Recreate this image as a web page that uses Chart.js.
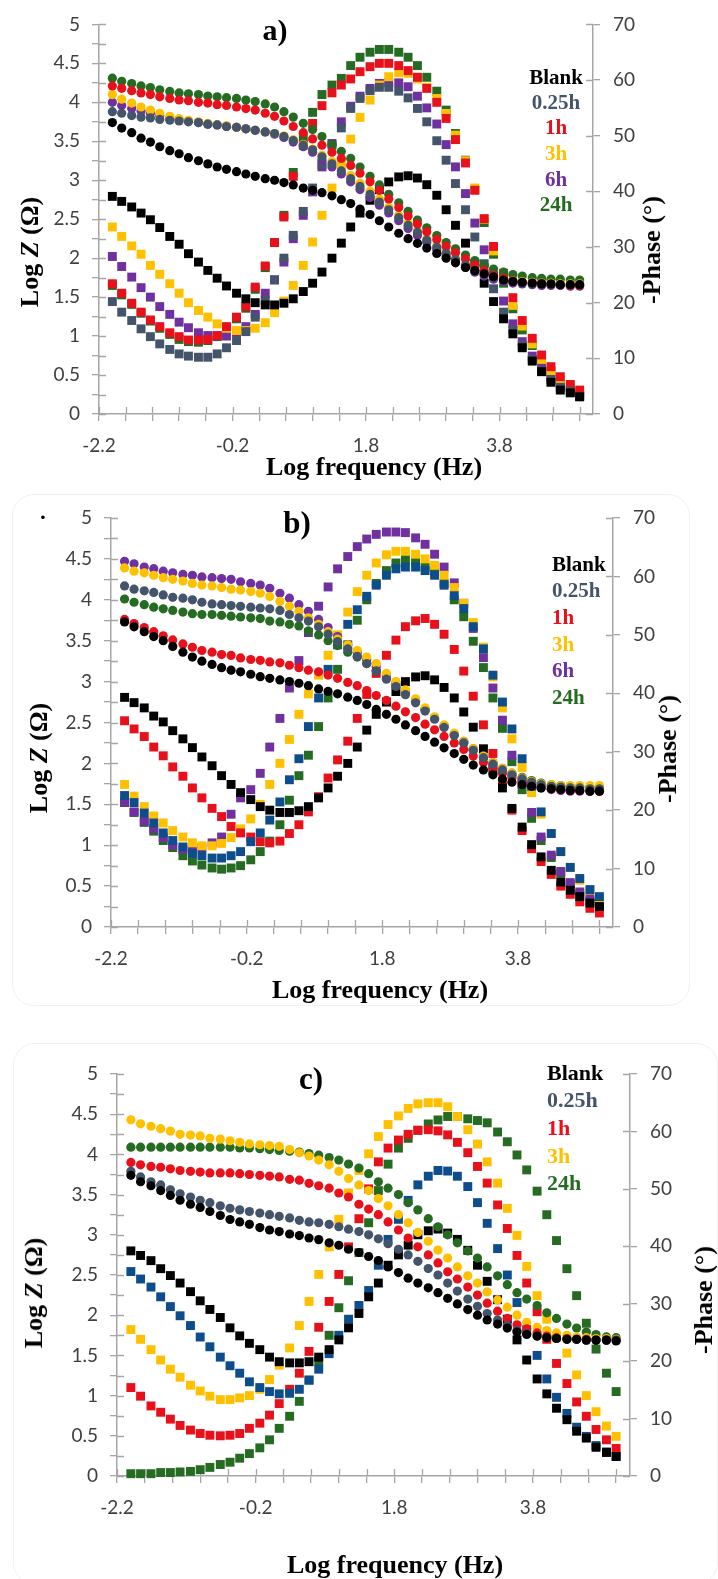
<!DOCTYPE html>
<html>
<head>
<meta charset="utf-8">
<script src="https://cdn.jsdelivr.net/npm/chart.js@4.4.0/dist/chart.umd.min.js"></script>
<style>
body { margin: 0; background: #fff; }
#page { position: relative; width: 718px; height: 1579px; overflow: hidden; background: #fff; }
canvas { position: absolute; left: 0; }
.t { position: absolute; font-family: 'Liberation Serif', 'Times New Roman', serif; font-weight: bold; white-space: nowrap; line-height: 1; transform: translate(-50%, -50%); }
.l { position: absolute; font-family: 'Liberation Serif', 'Times New Roman', serif; font-weight: bold; white-space: nowrap; line-height: 1; transform: translateY(-50%); }
.rot { transform: translate(-50%, -50%) rotate(-90deg); }
.frame { position: absolute; border: 1px solid #f1f1f1; border-radius: 22px; }
</style>
</head>
<body>
<div id="page">
  <div class="frame" style="left:12px;top:494px;width:676px;height:510px"></div>
  <div class="frame" style="left:13px;top:1043px;width:703px;height:540px"></div>

  <canvas id="chartA"></canvas>
  <canvas id="chartB"></canvas>
  <canvas id="chartC"></canvas>

  <!-- panel a -->
  <div class="t" style="left:275px;top:30px;font-size:30px">a)</div>
  <div class="t" style="left:556px;top:77px;font-size:21px;color:#000">Blank</div>
  <div class="t" style="left:556px;top:102px;font-size:21px;color:#44546A">0.25h</div>
  <div class="t" style="left:556px;top:127px;font-size:21px;color:#E8111B">1h</div>
  <div class="t" style="left:556px;top:153px;font-size:21px;color:#FFC000">3h</div>
  <div class="t" style="left:556px;top:179px;font-size:21px;color:#7030A0">6h</div>
  <div class="t" style="left:556px;top:204px;font-size:21px;color:#256B21">24h</div>
  <div class="t" style="left:374px;top:467px;font-size:26px">Log frequency (Hz)</div>
  <div class="t rot" style="left:30px;top:252px;font-size:26px">Log <i>Z</i> (Ω)</div>
  <div class="t rot" style="left:652px;top:250px;font-size:26px">-Phase (°)</div>

  <!-- panel b -->
  <div class="t" style="left:43px;top:517px;font-size:22px">·</div>
  <div class="t" style="left:297px;top:522px;font-size:31px">b)</div>
  <div class="l" style="left:552px;top:564px;font-size:21px;color:#000">Blank</div>
  <div class="l" style="left:552px;top:590px;font-size:21px;color:#44546A">0.25h</div>
  <div class="l" style="left:552px;top:617px;font-size:21px;color:#E8111B">1h</div>
  <div class="l" style="left:552px;top:644px;font-size:21px;color:#FFC000">3h</div>
  <div class="l" style="left:552px;top:670px;font-size:21px;color:#7030A0">6h</div>
  <div class="l" style="left:552px;top:697px;font-size:21px;color:#256B21">24h</div>
  <div class="t" style="left:380px;top:990px;font-size:26px">Log frequency (Hz)</div>
  <div class="t rot" style="left:39px;top:758px;font-size:26px">Log <i>Z</i> (Ω)</div>
  <div class="t rot" style="left:668px;top:749px;font-size:26px">-Phase (°)</div>

  <!-- panel c -->
  <div class="t" style="left:311px;top:1078px;font-size:31px">c)</div>
  <div class="l" style="left:547px;top:1073px;font-size:22px;color:#000">Blank</div>
  <div class="l" style="left:547px;top:1100px;font-size:22px;color:#44546A">0.25h</div>
  <div class="l" style="left:547px;top:1128px;font-size:22px;color:#E8111B">1h</div>
  <div class="l" style="left:547px;top:1156px;font-size:22px;color:#FFC000">3h</div>
  <div class="l" style="left:547px;top:1183px;font-size:22px;color:#256B21">24h</div>
  <div class="t" style="left:395px;top:1565px;font-size:26px">Log frequency (Hz)</div>
  <div class="t rot" style="left:34px;top:1293px;font-size:26px">Log <i>Z</i> (Ω)</div>
  <div class="t rot" style="left:704px;top:1300px;font-size:26px">-Phase (°)</div>
</div>

<script>
// log of the measured frequencies (7 points per decade, 10 mHz .. 100 kHz)
var logF = [-2.00,-1.86,-1.71,-1.57,-1.43,-1.29,-1.14,-1.00,-0.86,-0.71,
  -0.57,-0.43,-0.29,-0.14,0.00,0.14,0.29,0.43,0.57,0.71,
  0.86,1.00,1.14,1.29,1.43,1.57,1.71,1.86,2.00,2.14,
  2.29,2.43,2.57,2.71,2.86,3.00,3.14,3.29,3.43,3.57,
  3.71,3.86,4.00,4.14,4.29,4.43,4.57,4.71,4.86,5.00];

var xTicks = [-2.2,-1.8,-1.4,-1.0,-0.6,-0.2,0.2,0.6,1.0,1.4,1.8,2.2,2.6,3.0,3.4,3.8,4.2,4.6,5.0];
var xLabels = ['-2.2', '-0.2', '1.8', '3.8'];

// ---- panel a : Log Z ----
var aBlankZ = [3.74,3.67,3.61,3.54,3.49,3.43,3.38,3.34,3.29,3.25,
  3.21,3.17,3.14,3.11,3.08,3.05,3.02,3.00,2.97,2.94,
  2.90,2.87,2.84,2.80,2.75,2.70,2.63,2.56,2.48,2.40,
  2.32,2.25,2.19,2.13,2.06,2.00,1.94,1.88,1.84,1.80,
  1.76,1.72,1.70,1.69,1.68,1.67,1.67,1.66,1.66,1.66];
var a025Z = [3.88,3.86,3.83,3.81,3.80,3.78,3.77,3.76,3.75,3.74,
  3.72,3.71,3.69,3.68,3.66,3.64,3.62,3.60,3.56,3.51,
  3.45,3.39,3.30,3.21,3.12,3.02,2.92,2.82,2.72,2.62,
  2.52,2.42,2.33,2.23,2.14,2.06,1.98,1.91,1.84,1.79,
  1.75,1.72,1.70,1.68,1.67,1.67,1.66,1.66,1.66,1.66];
var a1hZ = [4.21,4.18,4.15,4.12,4.10,4.07,4.05,4.03,4.02,4.00,
  3.99,3.97,3.96,3.94,3.92,3.90,3.86,3.82,3.76,3.69,
  3.61,3.53,3.45,3.36,3.28,3.19,3.09,2.98,2.87,2.76,
  2.65,2.54,2.44,2.34,2.24,2.15,2.07,1.99,1.91,1.84,
  1.78,1.74,1.71,1.69,1.68,1.67,1.66,1.66,1.65,1.65];
var a3hZ = [4.10,4.04,3.99,3.94,3.90,3.86,3.82,3.79,3.77,3.75,
  3.73,3.71,3.70,3.68,3.66,3.64,3.62,3.60,3.57,3.52,
  3.46,3.40,3.32,3.24,3.16,3.06,2.96,2.86,2.76,2.65,
  2.55,2.45,2.35,2.25,2.16,2.08,2.00,1.92,1.86,1.80,
  1.76,1.73,1.71,1.70,1.69,1.68,1.68,1.67,1.67,1.67];
var a6hZ = [4.00,3.96,3.92,3.89,3.86,3.83,3.80,3.78,3.76,3.74,
  3.72,3.71,3.69,3.68,3.66,3.64,3.62,3.59,3.55,3.49,
  3.43,3.36,3.26,3.17,3.08,2.98,2.88,2.78,2.68,2.58,
  2.48,2.38,2.29,2.20,2.11,2.03,1.95,1.88,1.82,1.77,
  1.73,1.70,1.68,1.67,1.66,1.65,1.65,1.65,1.64,1.64];
var a24hZ = [4.31,4.27,4.24,4.21,4.19,4.16,4.14,4.12,4.11,4.10,
  4.08,4.07,4.06,4.05,4.03,4.01,3.98,3.94,3.88,3.81,
  3.73,3.65,3.56,3.46,3.37,3.28,3.17,3.05,2.94,2.82,
  2.71,2.60,2.49,2.39,2.29,2.20,2.12,2.04,1.97,1.91,
  1.86,1.82,1.79,1.77,1.75,1.74,1.73,1.73,1.72,1.72];

// ---- panel a : -Phase ----
var aBlankP = [39.1,38.2,37.2,36.1,34.9,33.5,31.9,30.5,28.8,27.3,
  25.8,24.4,23.0,21.7,20.7,20.0,19.6,19.6,19.9,20.7,
  22.0,23.5,25.5,28.0,30.7,33.6,36.1,38.4,40.3,41.7,
  42.6,42.8,42.4,41.2,39.3,36.7,33.9,30.7,27.0,23.5,
  20.2,17.1,14.4,11.9,9.5,7.6,5.7,4.3,3.8,3.1];
var a025P = [20.2,18.3,16.8,15.3,13.9,12.6,11.6,10.8,10.4,10.2,
  10.2,10.8,11.9,13.2,14.8,17.4,20.4,24.1,28.0,32.1,
  36.4,40.6,44.8,48.3,51.4,54.9,56.7,58.1,58.7,58.7,
  58.0,56.8,54.9,52.5,49.1,45.6,41.4,36.7,31.8,27.0,
  22.5,18.3,15.1,12.3,9.8,7.8,6.2,4.8,4.1,3.1];
var a1hP = [23.4,21.7,19.9,18.3,16.9,15.7,14.6,13.9,13.3,13.3,
  13.4,14.1,15.7,17.4,19.3,22.8,26.6,30.8,35.4,42.7,
  48.3,52.2,55.4,57.7,59.1,60.2,61.5,62.4,63.0,63.0,
  62.6,61.7,60.5,58.5,56.0,53.1,49.3,45.1,40.2,35.1,
  30.1,25.3,20.9,16.8,13.6,10.6,8.5,6.7,5.3,4.3];
var a3hP = [33.6,31.9,30.2,28.7,26.7,25.1,23.4,21.7,20.0,18.6,
  17.4,16.2,15.4,15.0,15.0,15.4,16.4,18.2,20.3,23.1,
  26.7,30.9,35.7,40.6,45.1,49.4,53.3,56.4,59.1,60.6,
  61.3,61.2,60.2,58.7,56.7,54.0,50.1,45.5,40.6,35.0,
  29.3,24.1,19.5,15.8,12.6,9.8,7.8,6.2,4.8,3.8];
var a6hP = [28.3,26.5,24.6,22.7,21.0,19.3,17.9,16.5,15.5,14.6,
  14.1,14.0,14.0,14.7,15.7,17.9,21.7,24.1,27.3,31.5,
  35.7,39.9,44.4,48.6,52.5,55.3,57.1,58.5,59.4,59.6,
  59.5,58.8,57.1,55.0,52.1,48.4,44.4,39.6,34.3,29.5,
  24.9,20.3,16.2,13.0,10.4,8.4,6.6,5.2,4.2,3.4];
var a24hP = [23.1,21.4,19.7,18.1,16.7,15.4,14.3,13.4,13.0,12.9,
  13.2,13.9,15.4,17.1,19.0,22.4,26.3,30.8,35.7,43.4,
  49.7,54.2,57.4,59.1,60.3,62.6,64.1,65.0,65.5,65.5,
  65.0,64.1,62.6,60.5,58.0,54.6,50.4,45.6,40.3,34.4,
  28.7,23.5,18.9,15.1,12.3,9.8,7.7,6.0,4.8,3.6];

// ---- panel b : Log Z ----
var bBlankZ = [3.73,3.67,3.61,3.55,3.50,3.43,3.36,3.30,3.25,3.21,
  3.17,3.14,3.12,3.09,3.06,3.04,3.02,3.00,2.98,2.95,
  2.91,2.88,2.85,2.81,2.77,2.72,2.66,2.60,2.54,2.47,
  2.40,2.33,2.26,2.19,2.12,2.05,1.98,1.92,1.86,1.81,
  1.77,1.74,1.72,1.70,1.69,1.68,1.67,1.67,1.66,1.66];
var b025Z = [4.17,4.13,4.11,4.09,4.06,4.03,4.02,4.00,3.97,3.95,
  3.94,3.93,3.92,3.91,3.90,3.89,3.87,3.82,3.78,3.74,
  3.67,3.58,3.49,3.40,3.31,3.22,3.13,3.03,2.94,2.84,
  2.74,2.64,2.54,2.44,2.34,2.25,2.16,2.07,1.99,1.92,
  1.86,1.81,1.77,1.74,1.72,1.71,1.70,1.70,1.69,1.69];
var b1hZ = [3.76,3.71,3.66,3.61,3.56,3.51,3.46,3.42,3.38,3.36,
  3.33,3.32,3.29,3.27,3.26,3.24,3.23,3.20,3.17,3.14,
  3.12,3.08,3.04,2.99,2.95,2.89,2.83,2.77,2.70,2.63,
  2.56,2.48,2.41,2.33,2.25,2.17,2.09,2.01,1.94,1.88,
  1.82,1.77,1.73,1.71,1.69,1.68,1.67,1.67,1.66,1.66];
var b3hZ = [4.39,4.35,4.33,4.30,4.27,4.25,4.23,4.20,4.18,4.17,
  4.15,4.13,4.12,4.10,4.08,4.04,3.98,3.92,3.86,3.78,
  3.70,3.61,3.52,3.45,3.38,3.30,3.22,3.10,3.00,2.90,
  2.79,2.68,2.57,2.47,2.37,2.27,2.18,2.09,2.01,1.94,
  1.88,1.82,1.78,1.75,1.74,1.73,1.73,1.73,1.73,1.73];
var b6hZ = [4.47,4.44,4.40,4.38,4.35,4.33,4.31,4.30,4.28,4.27,
  4.26,4.25,4.22,4.20,4.18,4.14,4.08,4.02,3.94,3.86,
  3.76,3.66,3.55,3.45,3.36,3.27,3.18,3.08,2.98,2.88,
  2.77,2.66,2.55,2.45,2.35,2.25,2.16,2.07,1.99,1.92,
  1.85,1.79,1.74,1.70,1.68,1.67,1.66,1.66,1.66,1.66];
var b24hZ = [4.01,3.97,3.94,3.91,3.89,3.87,3.85,3.83,3.82,3.82,
  3.81,3.80,3.79,3.78,3.77,3.74,3.73,3.70,3.68,3.62,
  3.57,3.50,3.44,3.36,3.30,3.22,3.13,3.04,2.95,2.86,
  2.76,2.66,2.56,2.46,2.36,2.27,2.18,2.09,2.01,1.94,
  1.88,1.83,1.79,1.76,1.74,1.73,1.72,1.72,1.71,1.71];

// ---- panel b : -Phase ----
var bBlankP = [39.3,38.4,37.5,36.1,35.1,33.6,32.2,30.7,29.1,27.6,
  25.9,24.4,23.0,21.8,20.6,20.0,19.6,19.6,19.9,20.6,
  22.1,23.8,25.8,28.0,30.8,33.7,36.4,38.5,40.3,42.0,
  42.8,43.0,42.3,41.0,39.2,36.8,34.2,30.5,26.9,23.8,
  20.3,17.1,14.1,12.0,9.7,7.7,6.3,5.2,4.1,3.5];
var b025P = [22.5,21.3,19.5,17.8,16.1,14.8,13.7,12.6,12.2,11.8,
  11.8,12.2,12.9,14.6,16.1,18.3,21.4,25.2,28.8,34.3,
  39.2,44.1,48.3,51.8,54.3,56.6,58.5,60.2,61.3,61.6,
  61.6,61.0,60.2,58.5,56.7,54.5,51.4,47.6,43.1,38.5,
  33.9,28.8,24.1,19.7,16.0,12.9,10.2,8.3,6.4,5.2];
var b1hP = [35.3,33.9,32.6,30.8,29.3,27.4,25.8,23.8,22.1,20.3,
  18.9,17.2,16.1,15.4,14.6,14.4,14.7,16.0,17.5,19.7,
  22.3,25.5,28.6,31.8,35.7,39.8,43.4,46.5,49.1,51.4,
  52.4,52.8,51.8,50.1,47.5,43.8,39.5,34.6,29.7,24.6,
  20.0,16.5,13.4,11.2,9.0,7.0,5.6,4.3,3.2,2.4];
var b3hP = [24.4,22.4,20.6,19.0,17.8,16.5,15.4,14.4,13.9,13.9,
  14.3,15.3,16.8,18.5,21.0,24.4,28.0,32.1,36.4,39.9,
  43.1,46.5,50.0,53.9,57.4,60.2,62.3,63.7,64.3,64.3,
  63.8,63.0,61.9,60.2,58.1,55.4,52.1,47.9,42.8,37.5,
  32.2,27.3,23.0,19.3,16.0,12.9,10.2,8.0,6.3,4.9];
var b6hP = [21.4,19.7,18.1,16.8,15.3,14.0,13.3,13.0,13.6,14.4,
  15.4,19.3,22.1,23.5,26.3,30.8,35.7,40.9,45.6,50.4,
  54.9,58.2,61.3,63.4,65.1,66.4,67.2,67.6,67.6,67.5,
  66.6,65.5,63.8,61.6,58.9,55.4,51.1,46.1,40.9,35.4,
  29.4,24.5,19.6,15.4,12.3,9.5,7.6,6.0,4.9,3.9];
var b24hP = [21.3,19.6,17.9,16.4,14.8,13.6,12.2,11.3,10.6,10.1,
  9.9,10.1,10.5,11.5,12.9,14.7,17.5,21.7,25.9,29.4,
  34.3,39.2,44.1,48.3,52.5,56.0,58.8,61.0,62.3,62.9,
  62.6,61.6,60.8,58.8,56.0,53.1,48.9,44.4,39.2,34.0,
  28.3,23.5,18.6,14.8,11.9,9.2,7.3,5.7,4.5,3.6];

// ---- panel c : Log Z ----
var cBlankZ = [3.74,3.66,3.61,3.55,3.49,3.43,3.38,3.34,3.29,3.24,
  3.19,3.16,3.13,3.09,3.06,3.04,3.01,2.99,2.96,2.94,
  2.90,2.87,2.82,2.78,2.73,2.68,2.60,2.53,2.46,2.40,
  2.34,2.28,2.21,2.14,2.07,2.00,1.94,1.89,1.84,1.79,
  1.76,1.74,1.72,1.71,1.70,1.70,1.69,1.69,1.69,1.68];
var c025Z = [3.79,3.72,3.66,3.62,3.56,3.51,3.47,3.43,3.40,3.36,
  3.33,3.31,3.29,3.27,3.25,3.23,3.21,3.18,3.16,3.15,
  3.13,3.10,3.07,3.04,3.00,2.95,2.89,2.82,2.75,2.67,
  2.58,2.50,2.40,2.30,2.20,2.11,2.02,1.94,1.87,1.81,
  1.77,1.74,1.72,1.71,1.70,1.70,1.69,1.69,1.69,1.69];
var c1hZ = [3.90,3.87,3.85,3.84,3.82,3.80,3.79,3.78,3.77,3.77,
  3.77,3.76,3.75,3.74,3.73,3.72,3.69,3.68,3.64,3.61,
  3.58,3.52,3.47,3.38,3.32,3.25,3.16,3.06,2.96,2.85,
  2.75,2.65,2.54,2.45,2.35,2.25,2.15,2.05,1.96,1.88,
  1.83,1.78,1.74,1.72,1.71,1.70,1.70,1.69,1.69,1.69];
var c3hZ = [4.43,4.38,4.35,4.32,4.29,4.25,4.24,4.23,4.20,4.19,
  4.17,4.15,4.13,4.12,4.11,4.10,4.06,4.02,3.98,3.93,
  3.87,3.79,3.70,3.62,3.55,3.45,3.36,3.25,3.15,3.03,
  2.92,2.81,2.71,2.60,2.49,2.40,2.29,2.19,2.10,2.00,
  1.91,1.85,1.81,1.78,1.75,1.73,1.72,1.71,1.71,1.70];
var c24hZ = [4.09,4.09,4.09,4.09,4.09,4.09,4.09,4.09,4.09,4.09,
  4.09,4.08,4.08,4.07,4.06,4.05,4.04,4.03,4.01,3.99,
  3.96,3.93,3.88,3.83,3.76,3.66,3.58,3.50,3.40,3.31,
  3.20,3.10,3.00,2.90,2.80,2.71,2.60,2.49,2.38,2.28,
  2.20,2.12,2.03,1.96,1.89,1.84,1.79,1.76,1.73,1.72];

// ---- panel c : -Phase ----
var cBlankP = [39.2,38.4,37.5,36.1,34.9,33.6,32.1,30.5,29.0,27.6,
  25.8,24.4,23.1,22.0,20.7,19.9,19.7,19.7,19.9,20.7,
  22.0,23.7,25.8,28.3,31.2,33.6,36.7,38.5,40.2,42.0,
  42.7,43.0,42.3,41.2,39.3,36.7,33.9,30.7,27.3,23.7,
  20.2,16.9,14.3,11.8,9.8,7.8,6.6,5.0,4.1,3.4];
var c025P = [35.6,34.3,32.9,31.2,29.5,27.9,26.2,24.2,22.5,20.7,
  19.2,17.9,16.4,15.4,14.7,14.3,14.4,15.1,16.7,18.6,
  21.3,24.5,27.3,29.7,32.3,36.7,41.2,44.7,48.0,50.7,
  52.2,53.2,53.1,52.2,50.4,47.6,44.0,39.6,35.0,30.2,
  25.5,21.0,16.9,13.7,10.9,8.5,6.9,5.3,4.2,3.4];
var c1hP = [15.4,13.9,12.2,11.1,9.9,8.8,8.0,7.4,7.1,7.0,
  7.1,7.4,8.3,9.2,10.6,12.6,15.1,17.9,21.7,25.9,
  30.4,35.1,39.9,44.8,50.0,54.7,57.1,58.5,59.5,60.2,
  60.3,60.1,59.4,58.1,56.3,53.9,51.0,47.2,43.1,38.4,
  33.6,28.6,23.8,19.6,16.1,12.9,10.4,8.1,6.3,4.8];
var c3hP = [25.5,23.8,22.0,20.2,18.6,17.2,15.8,14.8,13.9,13.3,
  13.3,13.6,14.0,15.1,16.8,19.3,22.3,26.2,30.4,35.1,
  39.9,44.7,49.3,53.2,56.1,59.1,61.2,62.7,64.0,64.8,
  65.0,65.0,64.3,62.6,60.3,57.8,54.7,51.0,46.6,41.9,
  36.5,31.4,27.3,24.1,21.4,17.6,14.0,11.2,8.7,6.9];
var c24hP = [0.4,0.4,0.4,0.6,0.6,0.7,0.8,1.1,1.5,2.0,
  2.4,3.1,3.9,4.9,6.3,8.3,10.4,13.0,16.7,20.0,
  24.5,29.3,34.0,38.9,44.1,49.7,54.3,57.1,58.8,60.2,
  61.3,62.0,62.6,62.6,62.2,61.9,61.5,59.9,58.2,55.9,
  53.3,49.6,45.5,41.0,36.1,31.4,26.6,22.1,17.9,14.7];

var BLACK = '#000000', SLATE = '#44546A', BLUE = '#0E4D8C', RED = '#E8111B',
    GOLD = '#FFC000', PURPLE = '#7030A0', GREEN = '#256B21';
var AXIS = '#a6a6a6', TICKTXT = '#404040';

Chart.defaults.font.family = 'Lato';

function pts(arr) {
  return logF.map(function (f, i) { return { x: f, y: arr[i] }; });
}

// small tick marks drawn on the inner side too, so they cross the axis like in Excel
var crossTicks = {
  id: 'crossTicks',
  beforeDatasetsDraw: function (chart) {
    var ctx = chart.ctx, a = chart.chartArea, s = chart.scales;
    ctx.save();
    ctx.strokeStyle = AXIS;
    ctx.lineWidth = 1.3;
    ctx.beginPath();
    s.x.ticks.forEach(function (t) {
      var px = Math.round(s.x.getPixelForValue(t.value)) + 0.5;
      ctx.moveTo(px, a.bottom); ctx.lineTo(px, a.bottom - 7);
    });
    s.y.ticks.forEach(function (t) {
      var py = Math.round(s.y.getPixelForValue(t.value)) + 0.5;
      ctx.moveTo(a.left, py); ctx.lineTo(a.left + 7, py);
    });
    s.y1.ticks.forEach(function (t) {
      var py = Math.round(s.y1.getPixelForValue(t.value)) + 0.5;
      ctx.moveTo(a.right, py); ctx.lineTo(a.right - 7, py);
    });
    ctx.stroke();
    ctx.restore();
  }
};

function drawPanel(id, pageTop, h, box, sets) {
  var cv = document.getElementById(id);
  cv.width = 718; cv.height = h;
  cv.style.top = pageTop + 'px';

  var ds = [];
  // circles = Log Z (left axis), squares = -phase (right axis)
  sets.forEach(function (s) {
    ds.push({ label: s.name + ' Z', data: pts(s.z), yAxisID: 'y', pointStyle: 'circle',
      pointRadius: 4.6, backgroundColor: s.c, borderColor: s.c, borderWidth: 0, clip: false });
  });
  sets.forEach(function (s) {
    ds.push({ label: s.name + ' phase', data: pts(s.p), yAxisID: 'y1', pointStyle: 'rect',
      pointRadius: 6.3, backgroundColor: s.sq || s.c, borderColor: s.sq || s.c, borderWidth: 0, clip: false });
  });

  var grid = { display: true, drawOnChartArea: false, drawTicks: true, tickLength: 7, color: AXIS, lineWidth: 1.3 };
  var border = { display: true, color: AXIS, width: 1.5 };
  var tickFont = { family: 'Lato', size: 19 };

  return new Chart(cv.getContext('2d'), {
    type: 'scatter',
    data: { datasets: ds },
    options: {
      responsive: false,
      animation: false,
      devicePixelRatio: 1,
      events: [],
      layout: { padding: { top: box.top - pageTop, left: 0, right: 0, bottom: 0 } },
      plugins: { legend: { display: false }, tooltip: { enabled: false } },
      scales: {
        x: {
          type: 'linear', min: -2.2, max: 5.2,
          afterBuildTicks: function (axis) { axis.ticks = xTicks.map(function (v) { return { value: v }; }); },
          afterFit: function (axis) { axis.height = h - (box.bottom - pageTop); },
          grid: grid, border: border,
          ticks: {
            autoSkip: false, maxRotation: 0, padding: 13, color: TICKTXT, font: tickFont,
            callback: function (v) { var s = v.toFixed(1); return xLabels.indexOf(s) >= 0 ? s : ''; }
          }
        },
        y: {
          position: 'left', min: 0, max: 5,
          afterFit: function (axis) { axis.width = box.left; },
          grid: grid, border: border,
          ticks: {
            stepSize: 0.25, autoSkip: false, padding: 12, color: TICKTXT, font: tickFont,
            callback: function (v) { return Math.abs(v * 2 - Math.round(v * 2)) < 1e-6 ? String(v) : ''; }
          }
        },
        y1: {
          position: 'right', min: 0, max: 70,
          afterFit: function (axis) { axis.width = 718 - box.right; },
          grid: grid, border: border,
          ticks: { stepSize: 10, autoSkip: false, padding: 13, color: TICKTXT, font: tickFont }
        }
      }
    },
    plugins: [crossTicks]
  });
}

drawPanel('chartA', 0, 490, { left: 99, right: 593, top: 24, bottom: 414 }, [
  { name: 'Blank', c: BLACK, z: aBlankZ, p: aBlankP },
  { name: '0.25h', c: SLATE, z: a025Z, p: a025P },
  { name: '1h', c: RED, z: a1hZ, p: a1hP },
  { name: '3h', c: GOLD, z: a3hZ, p: a3hP },
  { name: '6h', c: PURPLE, z: a6hZ, p: a6hP },
  { name: '24h', c: GREEN, z: a24hZ, p: a24hP }
]);

drawPanel('chartB', 490, 525, { left: 111, right: 613, top: 518, bottom: 927 }, [
  { name: 'Blank', c: BLACK, z: bBlankZ, p: bBlankP },
  { name: '0.25h', c: SLATE, sq: BLUE, z: b025Z, p: b025P },
  { name: '1h', c: RED, z: b1hZ, p: b1hP },
  { name: '3h', c: GOLD, z: b3hZ, p: b3hP },
  { name: '6h', c: PURPLE, z: b6hZ, p: b6hP },
  { name: '24h', c: GREEN, z: b24hZ, p: b24hP }
]);

drawPanel('chartC', 1040, 539, { left: 117, right: 630, top: 1074, bottom: 1476 }, [
  { name: 'Blank', c: BLACK, z: cBlankZ, p: cBlankP },
  { name: '0.25h', c: SLATE, sq: BLUE, z: c025Z, p: c025P },
  { name: '1h', c: RED, z: c1hZ, p: c1hP },
  { name: '3h', c: GOLD, z: c3hZ, p: c3hP },
  { name: '24h', c: GREEN, z: c24hZ, p: c24hP }
]);
</script>
</body>
</html>
